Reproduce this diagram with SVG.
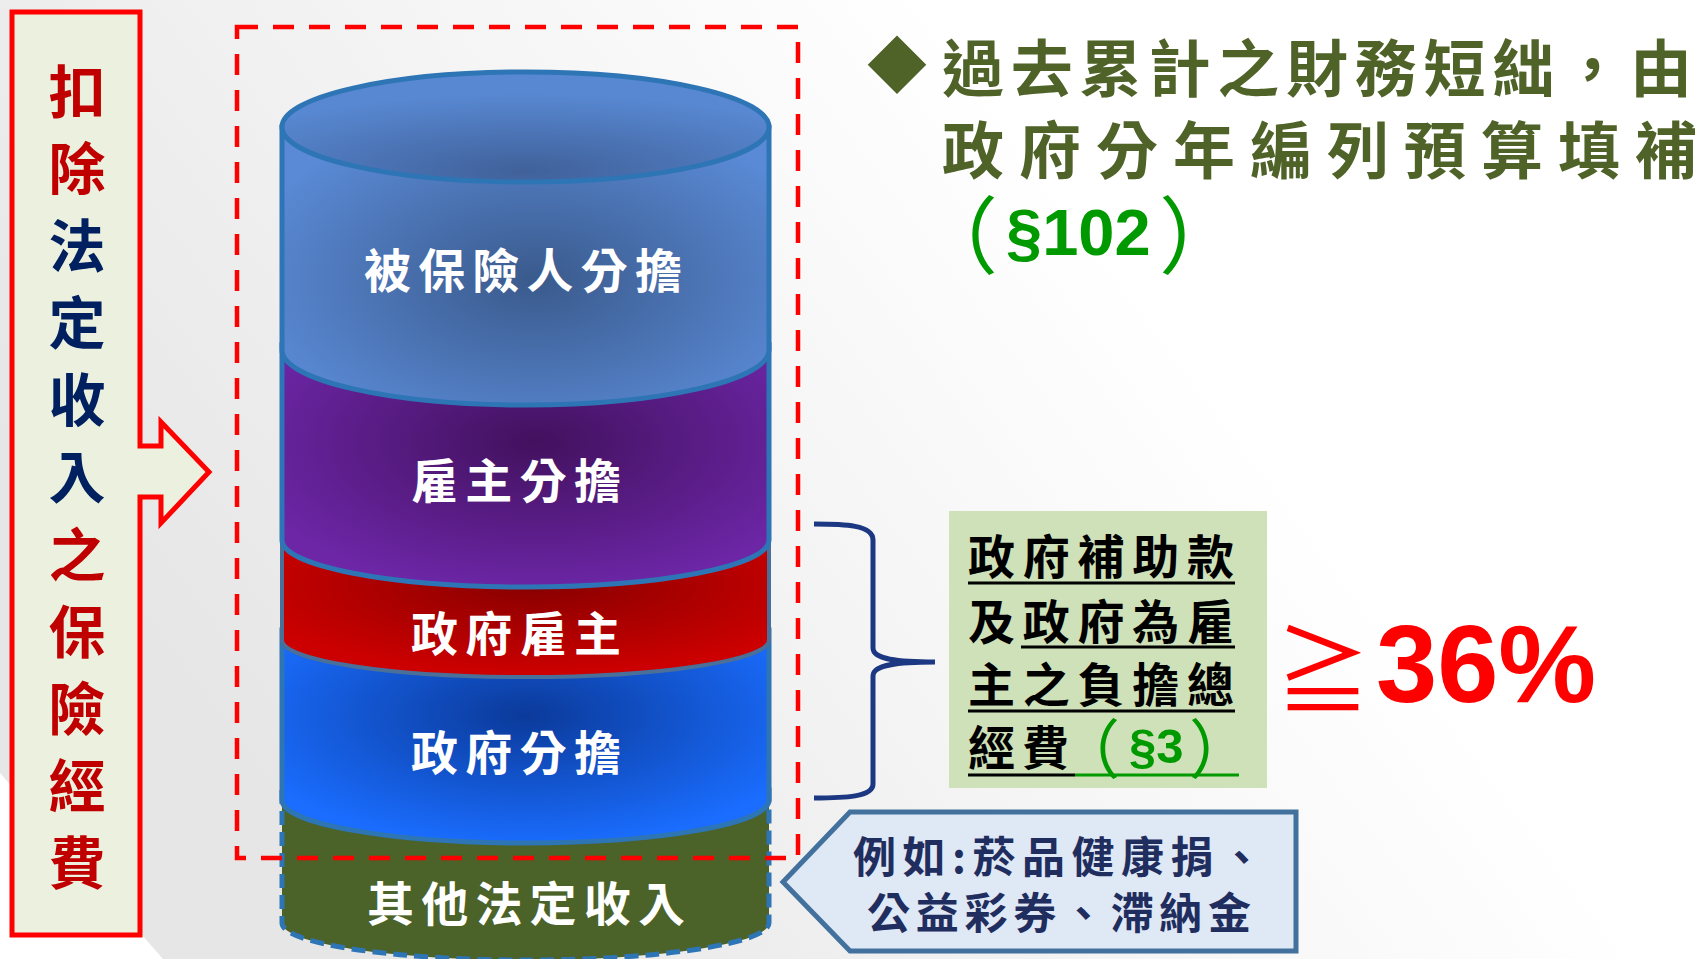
<svg xmlns="http://www.w3.org/2000/svg" width="1702" height="959" viewBox="0 0 1702 959">
<defs>
<linearGradient id="bg" gradientUnits="userSpaceOnUse" x1="200" y1="700" x2="1000" y2="100">
<stop offset="0" stop-color="#e6e6e6"/><stop offset="1" stop-color="#ffffff"/>
</linearGradient>
<radialGradient id="gTop" cx="0.52" cy="0.55" r="0.62">
<stop offset="0" stop-color="#3a5a8c"/><stop offset="1" stop-color="#5a8ad6"/>
</radialGradient>
<radialGradient id="gTopEl" cx="0.5" cy="0.9" r="0.7">
<stop offset="0" stop-color="#40619a"/><stop offset="1" stop-color="#5888d2"/>
</radialGradient>
<radialGradient id="gPur" cx="0.52" cy="0.4" r="0.62">
<stop offset="0" stop-color="#42115e"/><stop offset="1" stop-color="#6c26a6"/>
</radialGradient>
<radialGradient id="gRed" cx="0.52" cy="0.35" r="0.62">
<stop offset="0" stop-color="#880000"/><stop offset="1" stop-color="#cc0000"/>
</radialGradient>
<radialGradient id="gBlu" cx="0.5" cy="0.4" r="0.62">
<stop offset="0" stop-color="#0b3a9a"/><stop offset="1" stop-color="#1a6dff"/>
</radialGradient>
<style>
.cjk{font-family:"Noto Sans CJK TC","Noto Sans CJK SC",sans-serif;font-weight:700}
.reg{font-family:"Noto Sans CJK TC","Noto Sans CJK SC",sans-serif;font-weight:400}
.lat{font-family:"Liberation Sans",Arial,sans-serif;font-weight:700}
.wt{fill:#ffffff;font-size:47px}
.seg{stroke:#2e75b6;stroke-width:5}
.ul{stroke:#000;stroke-width:3}
</style>
</defs>
<polygon points="0,0 1702,0 1702,959 163,959 0,773" fill="url(#bg)"/>

<g id="left-box">
<path d="M12,12 H140 V446 H161 V422 L209,472 L161,523 V497 H140 V935 H12 Z" fill="#ebf1de" stroke="#ff0000" stroke-width="5" stroke-linejoin="miter"/>
<text class="cjk" font-size="57" text-anchor="middle" dominant-baseline="central"><tspan x="77" y="88" fill="#c00000">扣</tspan><tspan x="77" y="165" fill="#c00000">除</tspan><tspan x="77" y="242" fill="#002060">法</tspan><tspan x="77" y="319" fill="#002060">定</tspan><tspan x="77" y="396" fill="#002060">收</tspan><tspan x="77" y="473" fill="#002060">入</tspan><tspan x="77" y="551" fill="#c00000">之</tspan><tspan x="77" y="628" fill="#c00000">保</tspan><tspan x="77" y="705" fill="#c00000">險</tspan><tspan x="77" y="782" fill="#c00000">經</tspan><tspan x="77" y="859" fill="#c00000">費</tspan></text>
</g>

<g id="cylinder">
<g id="seg-other">
<path d="M282,790 L282,923 A243.5,37 0 0 0 769,923 L769,790 Z" fill="#4b6229" stroke="#2e75b6" stroke-width="5" stroke-dasharray="14 7"/>
<text class="cjk wt" x="367" y="900" dominant-baseline="central" textLength="318" lengthAdjust="spacing">其他法定收入</text>
</g>
<g id="seg-gov">
<path class="seg" d="M282,630 L282,800 A243.5,43 0 0 0 769,800 L769,630 Z" fill="url(#gBlu)"/>
<text class="cjk wt" x="411" y="749" dominant-baseline="central" textLength="210" lengthAdjust="spacing">政府分擔</text>
</g>
<g id="seg-govemp">
<path d="M282,535 L282,640 A243.5,37 0 0 0 769,640 L769,535 Z" fill="url(#gRed)" stroke="#4a6f99" stroke-width="4"/>
<text class="cjk wt" x="411" y="630" dominant-baseline="central" textLength="210" lengthAdjust="spacing">政府雇主</text>
</g>
<g id="seg-emp">
<path class="seg" d="M282,345 L282,540 A243.5,47 0 0 0 769,540 L769,345 Z" fill="url(#gPur)"/>
<text class="cjk wt" x="411" y="477" dominant-baseline="central" textLength="210" lengthAdjust="spacing">雇主分擔</text>
</g>
<g id="seg-insured">
<path class="seg" d="M282,127 L282,350 A243.5,55 0 0 0 769,350 L769,127 Z" fill="url(#gTop)"/>
<ellipse class="seg" cx="525.5" cy="127" rx="243.5" ry="55" fill="url(#gTopEl)"/>
<text class="cjk wt" x="364" y="267" dominant-baseline="central" textLength="318" lengthAdjust="spacing">被保險人分擔</text>
</g>
</g>

<rect id="dashed-frame" x="237" y="27" width="561" height="831" fill="none" stroke="#ff0000" stroke-width="4.5" stroke-dasharray="21 15"/>

<g id="connectors">
<path d="M814,524 C845,524 873,525 873,540 L873,648 C873,660 900,662 935,662 C900,662 873,664 873,676 L873,784 C873,797 845,798 814,798" fill="none" stroke="#1c3882" stroke-width="5"/>
</g>

<g id="title">
<text class="reg" x="897" y="61" font-size="60" fill="#4f6228" text-anchor="middle" dominant-baseline="central">◆</text>
<text class="cjk" x="942" y="65" font-size="62" fill="#4f6228" dominant-baseline="central" textLength="750" lengthAdjust="spacing">過去累計之財務短絀，由</text>
<text class="cjk" x="942" y="147" font-size="62" fill="#4f6228" dominant-baseline="central" textLength="755" lengthAdjust="spacing">政府分年編列預算填補</text>
<text fill="#009a00"><tspan class="reg" x="914" y="230" font-size="84" dominant-baseline="central">（</tspan><tspan class="lat" x="1006" y="255" font-size="65">§102</tspan><tspan class="reg" x="1159" y="230" font-size="84" dominant-baseline="central">）</tspan></text>
</g>

<g id="gov-box">
<rect x="949" y="511" width="318" height="277" fill="#cfe1b9"/>
<text class="cjk" x="968" y="553" font-size="47" fill="#000" dominant-baseline="central" textLength="266" lengthAdjust="spacing">政府補助款</text>
<text class="cjk" x="968" y="618" font-size="47" fill="#000" dominant-baseline="central" textLength="266" lengthAdjust="spacing">及政府為雇</text>
<text class="cjk" x="968" y="681" font-size="47" fill="#000" dominant-baseline="central" textLength="266" lengthAdjust="spacing">主之負擔總</text>
<text><tspan class="cjk" x="968" y="744" font-size="47" fill="#000" dominant-baseline="central">經</tspan><tspan class="cjk" x="1022" y="744" font-size="47" fill="#000" dominant-baseline="central">費</tspan><tspan class="reg" x="1056" y="745" font-size="64" fill="#009a00" dominant-baseline="central">（</tspan><tspan class="lat" x="1129" y="763" font-size="49" fill="#009a00">§3</tspan><tspan class="reg" x="1189" y="745" font-size="64" fill="#009a00" dominant-baseline="central">）</tspan></text>
<line class="ul" x1="968" y1="583" x2="1235" y2="583"/>
<line class="ul" x1="1021" y1="647" x2="1235" y2="647"/>
<line class="ul" x1="968" y1="711" x2="1235" y2="711"/>
<line class="ul" x1="968" y1="775" x2="1075" y2="775"/>
<line x1="1075" y1="775" x2="1239" y2="775" stroke="#009a00" stroke-width="3"/>
</g>

<g id="ratio">
<text class="reg" x="1323" y="664" font-size="95" fill="#ff0000" text-anchor="middle" dominant-baseline="central">≧</text>
<text class="lat" x="1376" y="702" font-size="110" fill="#ff0000">36%</text>
</g>

<g id="callout">
<polygon points="783,882 850,812 1296,812 1296,951 850,951" fill="#dfe8f5" stroke="#41719c" stroke-width="5"/>
<text class="cjk" x="853" y="854" font-size="43" fill="#1f2e5e" dominant-baseline="central" textLength="410" lengthAdjust="spacing">例如:菸品健康捐、</text>
<text class="cjk" x="867" y="910" font-size="43" fill="#1f2e5e" dominant-baseline="central" textLength="384" lengthAdjust="spacing">公益彩券、滯納金</text>
</g>
</svg>
